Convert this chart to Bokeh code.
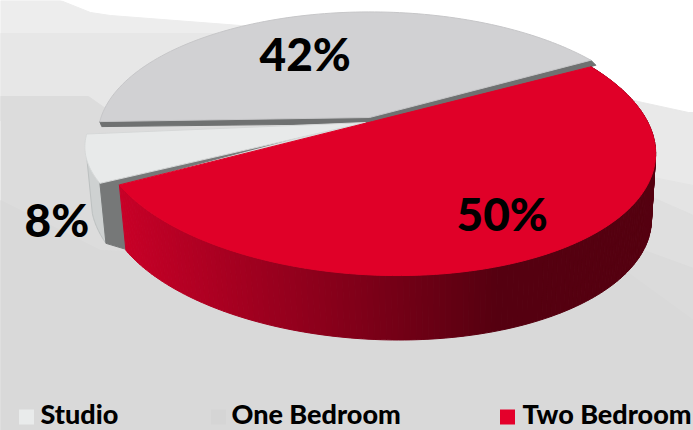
import numpy as np
from bokeh.plotting import figure
from bokeh.core.properties import value
from bokeh.embed import file_html
from bokeh.resources import INLINE

categories = ["Studio", "One Bedroom", "Two Bedroom"]
shares = [8, 42, 50]
labels = ["8%", "42%", "50%"]
colors = ["#e8eaea", "#d1d1d3", "#e00028"]
legend_swatches = ["#e9ebeb", "#d5d5d5", "#e4002b"]

W, H = 693, 430
p = figure(width=W, height=H, x_range=(0, W), y_range=(H, 0), output_backend="svg",
           toolbar_location=None, min_border=0, outline_line_color=None,
           background_fill_color="#ffffff", border_fill_color="#ffffff")
p.axis.visible = False
p.grid.visible = False

# Layered backdrop bands, painted from the lightest to the darkest
bands = [
    ("#ededed", [0, 60, 90, 110, 240, 400, 400, 0], [0, 0, 12, 15, 25, 30, 120, 120]),
    ("#e7e7e7", [0, 400, 400, 0], [33, 33, 120, 120]),
    ("#dcdcdc", [0, 88, 105, 600, 600, 0], [96, 96, 108, 108, 430, 430]),
    ("#e9e9e9", [600, 642, 688, 693, 693, 600], [92, 102, 112, 112, 430, 430]),
    ("#e4e4e4", [600, 653, 693, 693, 600], [170, 177, 185, 430, 430]),
    ("#dfdfdf", [600, 652, 693, 693, 600], [180, 197, 215, 430, 430]),
    ("#dbdbdb", [600, 638, 693, 693, 600], [235, 248, 268, 430, 430]),
    ("#d9d9d9", [0, 100, 620, 693, 693, 0], [200, 250, 267, 320, 430, 430]),
]
for fill, xs, ys in bands:
    p.patch(xs, ys, fill_color=fill, line_color=fill)


def rim(theta, shear=0.0, scale=1.0, flat=1.0, dx=0.0, dy=0.0):
    """Tilted disc seen in perspective: angle in radians to screen x, y."""
    u, v = np.cos(theta), np.sin(theta)
    w = 1 + 0.1655 * v - 0.015 * u
    x = 275.0 * scale * u / w
    y = -129.4 * scale * flat * v / w
    return 372.0 + x + dx, 121.0 + y + shear * x + dy


# Slices run clockwise from the 31.5 degree split; each is a share of the full turn
turn = 2 * np.pi
start = np.deg2rad(31.5)
red_span, studio_span, one_span = [s / sum(shares) * turn for s in (shares[2], shares[0], shares[1])]
red_a, red_b = start, start - red_span
studio_a, studio_b = red_b, red_b - studio_span
one_a, one_b = studio_b, studio_b - one_span

RED_SHEAR = 0.035
RED_TOP = dict(shear=RED_SHEAR, flat=0.99)
RED_LOW = dict(shear=RED_SHEAR, scale=0.98, dx=1.5, dy=66.0)
STUDIO = dict(shear=0.035, dx=-13.0, dy=6.0)
STUDIO_LOW = dict(shear=0.035, dx=-7.0, dy=66.0)
ONE = dict(shear=0.01, flat=0.96, dy=-3.0)
GAP = np.deg2rad(3.5)

# Studio side wall, with the silhouette from the outer rim down to the corner
angles = np.linspace(studio_a - GAP, studio_a - np.deg2rad(16.0), 24)
xt, yt = rim(angles, **STUDIO)
xb, yb = rim(angles[::-1], **STUDIO_LOW)
p.patch(np.r_[xt, xb], np.r_[yt, yb], fill_color="#ced1d1", line_color="#bcc0c0")

# Grey cut faces between the slices
sx, sy = rim(studio_a - GAP, **STUDIO)
slx, sly = rim(studio_a - GAP, **STUDIO_LOW)
rx, ry = rim(red_b, **RED_TOP)
rlx, rly = rim(red_b, **RED_LOW)
p.patch([372, sx, slx, rlx, rx], [117, sy, sly, rly - 1, ry],
        fill_color="#767878", line_color="#767878")

# One Bedroom top, its cut line, and the band along the upper split
t = np.linspace(one_a, one_b, 100)
ox, oy = rim(t, **ONE)
bx0, by0 = rim(one_a, **ONE)
bx1, by1 = rim(one_b, **ONE)
p.patch([372, bx1, bx1 + 5, 372, bx0 + 2, bx0],
        [116, by1, by1 + 5, 123, by0 + 5, by0],
        fill_color="#6f7171", line_color="#6f7171")
p.patch(np.r_[369, ox], np.r_[117, oy], fill_color=colors[1], line_color="#c6c6c8")

# Studio top
t = np.linspace(studio_a - GAP, studio_b, 30)
sx2, sy2 = rim(t, **STUDIO)
lift = np.clip((t - t[-1]) / (t[0] - t[-1]), 0, 1)
p.patch(np.r_[365, sx2], np.r_[122, sy2 + 10 * (1 - lift)], fill_color=colors[0],
        line_color="#d6d8d8")

# Two Bedroom side wall, strips shaded from crimson to near black left to right
edges = np.linspace(red_b, red_a, 170)
dark, bright = np.array([0x55, 0x00, 0x10]), np.array([0xc8, 0x00, 0x28])
for a0, a1 in zip(edges[:-1], edges[1:]):
    pair = np.array([a0, a1])
    xa, ya = rim(pair, **RED_TOP)
    xc, yc = rim(pair[::-1], **RED_LOW)
    mix = np.clip((xa.mean() - 120) / (500 - 120), 0, 1)
    rgb = (bright + (dark - bright) * mix).astype(int)
    col = "#%02x%02x%02x" % tuple(rgb)
    p.patch(np.r_[xa, xc], np.r_[ya, yc], fill_color=col, line_color=col, line_width=1)

# Two Bedroom top
t = np.linspace(red_a, red_b, 120)
x, y = rim(t, **RED_TOP)
p.patch(np.r_[372, x], np.r_[121, y], fill_color=colors[2], line_color=colors[2])

# Percentage labels
p.text([24, 259, 456], [219, 53, 213], text=labels, text_font=value("Lato Black"),
       text_font_size="46px", text_color="#000000", text_baseline="middle", text_align="left")

# Legend row
p.rect([26, 218, 507], [416.5, 416.5, 416.5], width=15, height=15,
       fill_color=legend_swatches, line_color=None)
p.text([40, 231, 522], [413, 413, 413], text=categories, text_font=value("Lato Black"),
       text_font_size="27px", text_color="#000000",
       text_baseline="middle", text_align="left")

open("out.html", "w").write(file_html(p, INLINE))
